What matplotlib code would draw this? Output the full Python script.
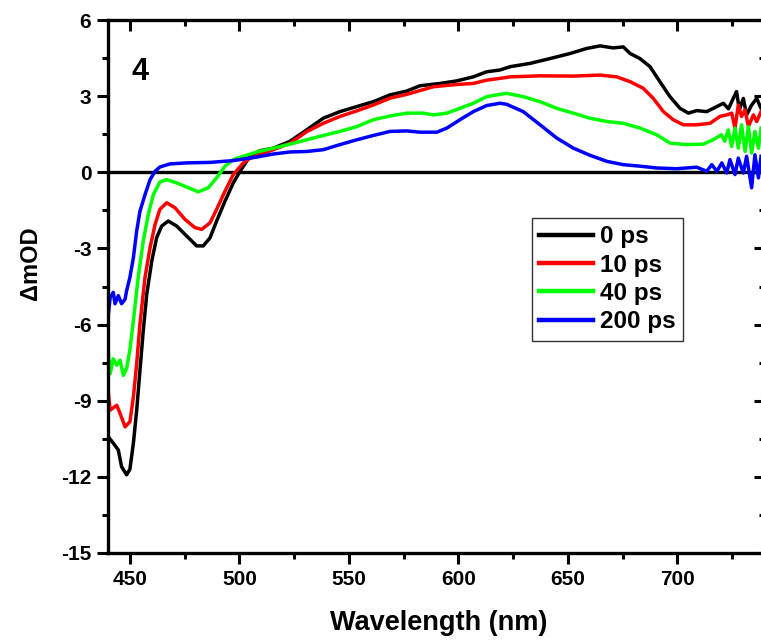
#transient absorption spectra, sample 4
#dOD vs wavelength at 4 delay times

import matplotlib.pyplot as plt
from matplotlib.ticker import MultipleLocator

# wavelength (nm) and dOD (mOD)
wl_0ps=[440.1,442.4,444.7,446.2,448.5,450.0,451.6,453.1,454.6,456.1,457.7,460.0,462.2,464.5,467.5,
        471.4,475.9,480.5,483.5,486.6,489.6,493.4,497.2,500.3,504.8,509.4,515.5,523.1,530.7,538.3,
        545.9,553.6,561.1,568.8,576.4,582.5,591.6,599.2,606.8,612.9,619.0,623.6,632.7,641.8,651.0,
        658.6,664.7,670.7,675.3,678.4,682.9,687.5,692.0,696.6,701.2,705.0,708.8,713.4,718.0,721.0,
        723.3,725.5,727.0,728.3,730.1,731.6,733.9,736.2,738.2]
od_0ps=[-10.42,-10.67,-10.94,-11.6,-11.92,-11.7,-10.67,-9.37,-7.8,-6.24,-4.8,-3.49,-2.58,-2.12,-1.92,
        -2.12,-2.51,-2.9,-2.9,-2.58,-1.92,-1.14,-0.42,0.04,0.63,0.85,0.95,1.22,1.67,2.13,
        2.39,2.59,2.78,3.05,3.2,3.41,3.5,3.6,3.76,3.96,4.03,4.16,4.29,4.48,4.68,
        4.88,4.98,4.9,4.94,4.68,4.48,4.16,3.57,2.98,2.52,2.33,2.43,2.39,2.59,2.72,
        2.5,2.91,3.18,2.46,2.91,2.26,2.65,2.91,2.52]

wl_10ps=[440.0,441.0,444.0,445.5,447.8,450.0,451.6,453.1,454.6,456.9,459.2,461.5,463.7,466.8,470.6,
         475.2,479.7,482.8,486.6,489.6,493.4,497.2,501.8,504.8,515.5,523.1,530.7,538.3,545.9,553.6,
         561.1,568.8,576.4,588.6,599.2,606.8,612.9,619.0,623.6,637.3,652.5,664.7,672.3,678.4,684.4,
         689.0,693.6,698.1,702.7,708.8,714.9,719.4,722.5,724.8,726.3,727.8,729.3,730.9,732.4,734.7,
         736.2,738.2]
od_10ps=[-8.59,-9.37,-9.18,-9.5,-10.03,-9.83,-8.85,-7.54,-5.97,-4.14,-2.97,-2.05,-1.46,-1.2,-1.4,
         -1.86,-2.18,-2.25,-1.99,-1.46,-0.75,-0.09,0.37,0.55,0.89,1.14,1.6,1.93,2.2,2.42,
         2.65,2.92,3.07,3.37,3.46,3.5,3.63,3.7,3.76,3.8,3.79,3.83,3.76,3.57,3.31,
         2.91,2.39,2.07,1.87,1.87,1.93,2.2,2.26,2.33,1.74,2.65,2.2,2.46,1.8,2.26,
         2.0,2.39]

wl_40ps=[440.0,441.0,442.4,444.0,445.5,447.0,448.5,450.0,451.6,453.8,456.1,458.4,460.7,463.7,466.8,
         471.4,476.7,481.2,485.8,489.6,493.4,497.2,501.8,507.9,515.5,523.1,530.7,538.3,545.9,553.6,
         561.1,568.8,576.4,584.0,588.6,594.7,600.7,606.8,612.9,619.0,622.0,629.6,637.3,644.9,652.5,
         660.1,667.8,675.3,683.0,690.5,696.6,704.2,711.8,716.3,720.1,721.6,723.2,724.8,726.3,727.8,
         729.3,730.9,732.4,733.9,735.4,737.0,738.2]
od_40ps=[-6.95,-7.93,-7.35,-7.6,-7.4,-8.0,-7.73,-7.0,-5.84,-4.14,-2.71,-1.66,-0.88,-0.38,-0.29,
         -0.42,-0.61,-0.77,-0.61,-0.22,0.24,0.5,0.63,0.8,0.95,1.11,1.28,1.45,1.61,1.8,
         2.07,2.22,2.33,2.33,2.26,2.33,2.52,2.72,2.98,3.07,3.11,2.98,2.78,2.52,2.33,
         2.13,2.0,1.93,1.74,1.48,1.15,1.09,1.11,1.28,1.48,1.22,1.67,1.02,1.74,0.95,
         1.87,0.82,1.8,0.76,1.61,0.95,1.74]

wl_200ps=[440.0,441.0,442.4,443.2,444.7,446.2,447.8,448.5,450.0,451.6,453.1,454.6,456.9,459.2,461.5,
          463.7,468.3,475.9,486.6,497.2,507.9,515.5,523.1,530.7,538.3,545.9,553.6,561.1,568.8,576.4,
          582.5,590.1,594.7,600.7,606.8,612.9,619.0,622.0,629.6,637.3,644.9,652.5,660.1,667.8,675.3,
          683.0,690.5,699.6,708.8,713.4,715.7,718.0,720.3,722.5,724.0,726.3,727.8,730.1,731.6,733.9,
          735.4,737.0,738.2]
od_200ps=[-5.71,-4.93,-4.73,-5.18,-4.86,-5.18,-5.0,-4.67,-4.14,-3.36,-2.31,-1.53,-0.88,-0.29,0.04,
          0.21,0.33,0.37,0.39,0.46,0.6,0.72,0.8,0.82,0.89,1.09,1.28,1.45,1.61,1.63,
          1.58,1.58,1.74,2.07,2.39,2.63,2.72,2.68,2.39,1.87,1.35,0.95,0.67,0.43,0.3,
          0.24,0.17,0.14,0.2,0.04,0.3,0.04,0.37,-0.03,0.5,-0.09,0.56,-0.03,0.63,-0.61,
          0.69,-0.22,0.63]

labels=['0 ps','10 ps','40 ps','200 ps']
colors=['k','#ff0000','#00ff00','#0000ff']

plt.rcParams['font.family']='Liberation Sans'
plt.rcParams['font.weight']='bold'
plt.rcParams['axes.unicode_minus']=False

fig=plt.figure(figsize=(7.61,6.41),dpi=100)
ax=fig.add_axes([108/761,1-553/641,(765-108)/761,(553-20)/641])

ax.axhline(0,color='k',linewidth=2.4,zorder=1)
ax.plot(wl_0ps,od_0ps,color=colors[0],linewidth=2.5,label=labels[0])
ax.plot(wl_10ps,od_10ps,color=colors[1],linewidth=2.5,label=labels[1])
ax.plot(wl_40ps,od_40ps,color=colors[2],linewidth=2.5,label=labels[2])
ax.plot(wl_200ps,od_200ps,color=colors[3],linewidth=2.5,label=labels[3])

ax.set_xlim(440,740)
ax.set_ylim(-15,6)
ax.xaxis.set_major_locator(MultipleLocator(50))
ax.xaxis.set_minor_locator(MultipleLocator(25))
ax.yaxis.set_major_locator(MultipleLocator(3))
ax.yaxis.set_minor_locator(MultipleLocator(1.5))

for s in ax.spines.values():
    s.set_linewidth(2.4)
ax.tick_params(which='both',top=True,right=True,width=2.2)
ax.tick_params(which='major',length=8,labelsize=15,pad=4)
ax.tick_params(which='minor',length=4)
ax.tick_params(axis='both',which='both',direction='out')
# top and right ticks point inwards
for t in ax.xaxis.get_major_ticks()+ax.xaxis.get_minor_ticks():
    t.tick2line.set_marker(3)
for t in ax.yaxis.get_major_ticks()+ax.yaxis.get_minor_ticks():
    t.tick2line.set_marker(0)

ax.set_xlabel('Wavelength (nm)',fontsize=19.5,fontweight='bold')
ax.xaxis.set_label_coords((439-108)/657,(553-610)/533)
ax.set_ylabel('\u0394mOD',fontsize=17,fontweight='bold')
ax.yaxis.set_label_coords((42-108)/657,(553-263)/533)
ax.text(454.6,3.96,'4',fontsize=22,fontweight='bold',ha='center',va='center')

leg=ax.legend(loc='upper left',bbox_to_anchor=(532/761,1-218/641),bbox_transform=fig.transFigure,
              borderaxespad=0,fontsize=17.5,frameon=True,fancybox=False,framealpha=1,edgecolor='#333333',
              handlelength=2.2,labelspacing=0.22,borderpad=0.3,handletextpad=0.3)
leg.get_frame().set_linewidth(1)
for h in leg.get_lines():
    h.set_linewidth(3.2)

plt.savefig('out.png',dpi=100)
